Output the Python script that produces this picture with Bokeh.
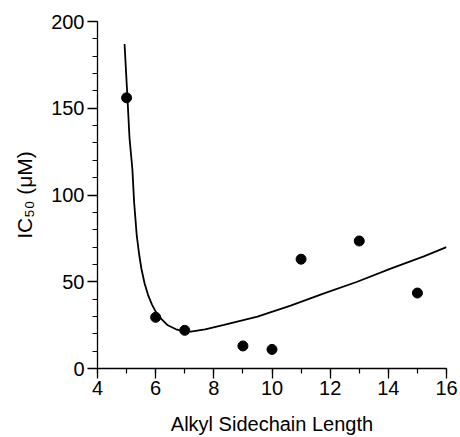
from bokeh.plotting import figure
from bokeh.models import SingleIntervalTicker
from bokeh.embed import file_html
from bokeh.resources import INLINE

# measured data points
chain_length = [5, 6, 7, 9, 10, 11, 13, 15]
ic50 = [156, 29.5, 22, 13, 11, 63, 73.5, 43.5]

# fitted curve
curve_x = [4.93, 5.03, 5.1, 5.2, 5.26, 5.35, 5.43, 5.51, 5.62, 5.74, 5.87, 6.0, 6.2,
           6.4, 6.7, 6.98, 7.21, 7.7, 8.35, 9.5, 10.64, 11.79, 12.93, 14.08, 15.22, 16.0]
curve_y = [187, 156, 133, 114.7, 95.6, 76.6, 66, 57.5, 49, 42.3, 37, 32.8, 28.5,
           25.1, 22.6, 21.4, 21.2, 22.6, 25.1, 29.9, 36.2, 43.3, 50.0, 57.6, 64.6, 70]

x_ticks_interval = 2
y_ticks_interval = 50

x_title = "Alkyl Sidechain Length"
y_title = "IC\u2085\u2080 (\u03bcM)"

FONT = "Liberation Sans"

p = figure(width=458, height=437, x_range=(4, 16), y_range=(0, 200),
           output_backend="svg", toolbar_location=None,
           min_border_left=97, min_border_right=12, min_border_top=21, min_border_bottom=66)
p.outline_line_color = None
p.xgrid.visible = False
p.ygrid.visible = False
p.background_fill_color = "white"
p.border_fill_color = "white"

p.xaxis.ticker = SingleIntervalTicker(interval=x_ticks_interval, num_minor_ticks=2)
p.yaxis.ticker = SingleIntervalTicker(interval=y_ticks_interval, num_minor_ticks=5)

for ax in (p.xaxis[0], p.yaxis[0]):
    ax.axis_line_color = "black"
    ax.axis_line_width = 1.3
    ax.major_tick_line_color = "black"
    ax.major_tick_line_width = 1.3
    ax.minor_tick_line_color = "black"
    ax.minor_tick_line_width = 1.2
    ax.major_tick_in = 0
    ax.major_tick_out = 10
    ax.minor_tick_in = 0
    ax.minor_tick_out = 5
    ax.major_label_text_font = FONT
    ax.major_label_text_font_size = "20px"
    ax.major_label_text_color = "black"
    ax.axis_label_text_font = FONT
    ax.axis_label_text_font_style = "normal"
    ax.axis_label_text_color = "black"

p.xaxis.major_label_standoff = 2
p.yaxis.major_label_standoff = 3

p.xaxis.axis_label = x_title
p.xaxis.axis_label_text_font_size = "20px"
p.xaxis.axis_label_standoff = 15

p.yaxis.axis_label = y_title
p.yaxis.axis_label_text_font_size = "21px"
p.yaxis.axis_label_standoff = 12

p.line(curve_x, curve_y, line_color="black", line_width=1.8)
p.scatter(chain_length, ic50, size=10, fill_color="black", line_color="black")

open("out.html", "w").write(file_html(p, INLINE))
